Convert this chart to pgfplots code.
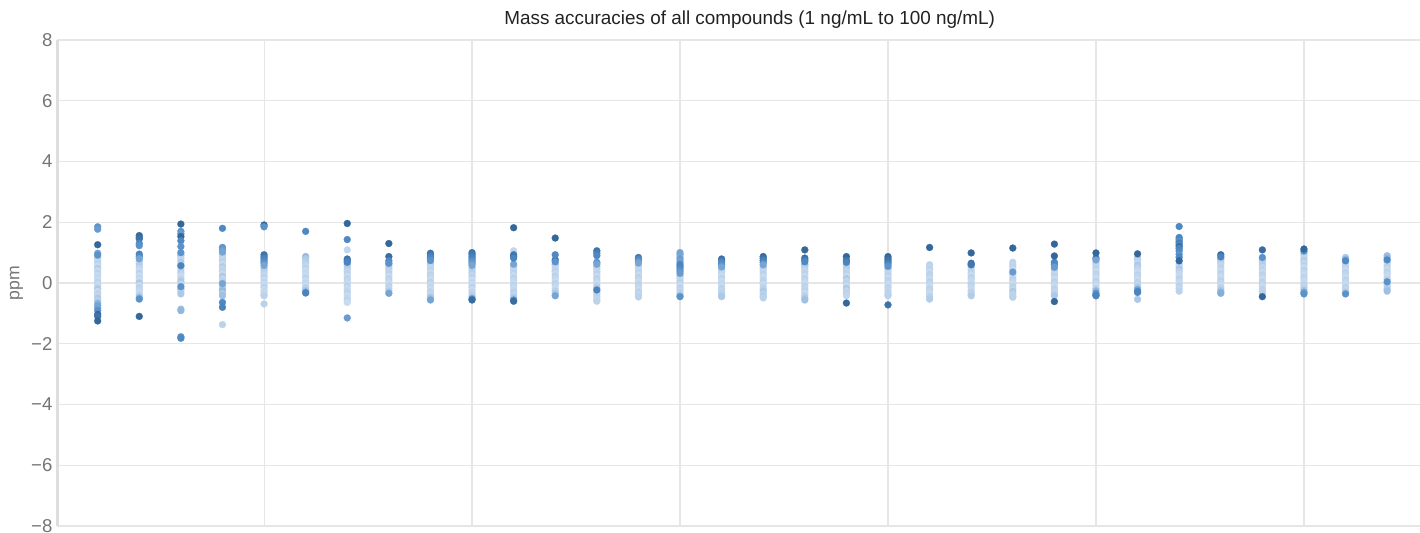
\documentclass[border=0pt]{standalone}
\usepackage{fontspec}
\setmainfont{Liberation Sans}
\usepackage{pgfplots}
\usepackage{pgfplotstable}
\pgfplotsset{compat=1.18}
\definecolor{gridc}{HTML}{E6E6E6}
\definecolor{axc}{HTML}{DEDEDE}
\definecolor{tickc}{HTML}{757575}
\definecolor{titc}{HTML}{222222}
\pgfplotstableread{
x y c
1 0.98 0.5
1 0.92 0.6
1 0.85 0.3
1 0.78 0.2
1 0.70 0.15
1 0.62 0.2
1 0.55 0.1
1 0.48 0.25
1 0.40 0.1
1 0.32 0.2
1 0.25 0.1
1 0.18 0.15
1 0.10 0.1
1 0.02 0.2
1 -0.05 0.1
1 -0.12 0.15
1 -0.20 0.3
1 -0.28 0.1
1 -0.35 0.2
1 -0.42 0.15
1 -0.50 0.3
1 -0.58 0.2
1 -0.66 0.4
1 -0.74 0.5
1 -0.82 0.45
1 -0.90 0.6
1 1.85 0.6
1 1.77 0.55
1 1.26 0.95
1 -1.03 0.95
1 -1.10 0.85
1 -1.25 0.95
2 0.95 0.7
2 0.88 0.65
2 0.80 0.5
2 0.72 0.3
2 0.64 0.2
2 0.56 0.25
2 0.48 0.15
2 0.40 0.1
2 0.32 0.2
2 0.24 0.1
2 0.16 0.15
2 0.08 0.1
2 0.00 0.3
2 -0.08 0.1
2 -0.16 0.2
2 -0.24 0.15
2 -0.32 0.1
2 -0.40 0.2
2 -0.48 0.4
2 -0.53 0.6
2 1.56 0.95
2 1.50 0.9
2 1.45 0.85
2 1.30 0.65
2 1.23 0.6
2 -1.10 0.95
3 1.00 0.6
3 0.92 0.4
3 0.84 0.2
3 0.76 0.15
3 0.68 0.3
3 0.60 0.15
3 0.57 0.7
3 0.52 0.2
3 0.44 0.1
3 0.36 0.25
3 0.28 0.15
3 0.20 0.1
3 0.12 0.2
3 0.04 0.3
3 -0.04 0.15
3 -0.12 0.6
3 -0.20 0.4
3 -0.28 0.2
3 -0.36 0.3
3 1.94 0.95
3 1.70 0.6
3 1.62 0.55
3 1.53 0.95
3 1.39 0.65
3 1.20 0.6
3 -0.86 0.35
3 -0.91 0.4
3 -1.77 0.6
3 -1.82 0.65
4 1.17 0.6
4 1.10 0.55
4 1.02 0.5
4 0.94 0.3
4 0.86 0.2
4 0.78 0.15
4 0.70 0.2
4 0.62 0.1
4 0.54 0.25
4 0.46 0.15
4 0.38 0.2
4 0.30 0.1
4 0.22 0.3
4 0.14 0.15
4 0.06 0.2
4 -0.02 0.5
4 -0.10 0.2
4 -0.18 0.3
4 -0.26 0.4
4 -0.34 0.3
4 -0.42 0.35
4 1.80 0.65
4 -0.64 0.65
4 -0.80 0.7
4 -1.37 0.2
5 0.93 0.85
5 0.86 0.8
5 0.80 0.7
5 0.73 0.65
5 0.66 0.6
5 0.58 0.5
5 0.50 0.3
5 0.42 0.25
5 0.34 0.2
5 0.26 0.15
5 0.18 0.2
5 0.10 0.1
5 0.02 0.15
5 -0.06 0.1
5 -0.14 0.2
5 -0.22 0.1
5 -0.30 0.15
5 -0.38 0.1
5 -0.42 0.2
5 1.91 0.95
5 1.85 0.6
5 -0.69 0.2
6 0.87 0.4
6 0.80 0.3
6 0.72 0.25
6 0.64 0.2
6 0.56 0.15
6 0.48 0.2
6 0.40 0.1
6 0.32 0.15
6 0.24 0.1
6 0.16 0.2
6 0.08 0.1
6 0.00 0.15
6 -0.08 0.1
6 -0.16 0.2
6 -0.24 0.3
6 -0.30 0.5
6 -0.33 0.7
6 1.70 0.65
7 0.79 0.85
7 0.73 0.8
7 0.68 0.7
7 0.62 0.4
7 0.54 0.2
7 0.46 0.25
7 0.38 0.15
7 0.30 0.2
7 0.22 0.1
7 0.14 0.2
7 0.06 0.15
7 -0.02 0.1
7 -0.10 0.2
7 -0.18 0.1
7 -0.26 0.15
7 -0.34 0.2
7 -0.42 0.1
7 -0.50 0.15
7 -0.58 0.2
7 -0.64 0.1
7 1.96 0.95
7 1.43 0.65
7 1.09 0.15
7 -1.15 0.55
8 0.62 0.4
8 0.54 0.2
8 0.46 0.25
8 0.38 0.15
8 0.30 0.2
8 0.22 0.1
8 0.14 0.2
8 0.06 0.15
8 -0.02 0.1
8 -0.10 0.2
8 -0.18 0.15
8 -0.26 0.25
8 -0.34 0.5
8 1.30 0.95
8 0.87 0.9
8 0.73 0.65
8 0.65 0.6
9 0.98 0.85
9 0.92 0.8
9 0.86 0.7
9 0.80 0.65
9 0.74 0.6
9 0.66 0.3
9 0.58 0.2
9 0.50 0.15
9 0.42 0.2
9 0.34 0.1
9 0.26 0.2
9 0.18 0.15
9 0.10 0.1
9 0.02 0.2
9 -0.06 0.1
9 -0.14 0.15
9 -0.22 0.1
9 -0.30 0.2
9 -0.38 0.15
9 -0.46 0.3
9 -0.52 0.35
9 -0.56 0.5
10 1.00 0.85
10 0.94 0.8
10 0.88 0.75
10 0.82 0.7
10 0.76 0.65
10 0.70 0.6
10 0.64 0.55
10 0.58 0.5
10 0.50 0.3
10 0.42 0.2
10 0.34 0.25
10 0.26 0.15
10 0.18 0.2
10 0.10 0.1
10 0.02 0.15
10 -0.06 0.1
10 -0.14 0.2
10 -0.22 0.1
10 -0.30 0.15
10 -0.38 0.2
10 -0.46 0.3
10 -0.52 0.6
10 -0.56 0.9
11 0.62 0.5
11 0.55 0.3
11 0.48 0.2
11 0.40 0.15
11 0.32 0.2
11 0.24 0.1
11 0.16 0.2
11 0.08 0.15
11 0.00 0.1
11 -0.08 0.2
11 -0.16 0.1
11 -0.24 0.15
11 -0.32 0.2
11 -0.40 0.15
11 -0.48 0.3
11 -0.56 0.6
11 -0.60 0.9
11 1.82 0.95
11 1.06 0.15
11 0.93 0.8
11 0.87 0.85
11 0.82 0.7
12 0.76 0.9
12 0.70 0.6
12 0.62 0.4
12 0.54 0.2
12 0.46 0.15
12 0.38 0.2
12 0.30 0.1
12 0.22 0.2
12 0.14 0.15
12 0.06 0.1
12 -0.02 0.2
12 -0.10 0.15
12 -0.18 0.1
12 -0.26 0.2
12 -0.34 0.3
12 -0.42 0.5
12 1.48 0.95
12 0.93 0.65
13 1.06 0.85
13 0.98 0.75
13 0.90 0.65
13 0.68 0.6
13 0.62 0.5
13 0.54 0.3
13 0.46 0.2
13 0.38 0.15
13 0.30 0.2
13 0.22 0.1
13 0.14 0.2
13 0.06 0.15
13 -0.02 0.1
13 -0.10 0.2
13 -0.18 0.3
13 -0.23 0.7
13 -0.30 0.2
13 -0.38 0.15
13 -0.46 0.2
13 -0.54 0.15
13 -0.60 0.2
14 0.84 0.8
14 0.78 0.65
14 0.72 0.6
14 0.66 0.5
14 0.58 0.3
14 0.50 0.2
14 0.42 0.15
14 0.34 0.2
14 0.26 0.1
14 0.18 0.2
14 0.10 0.15
14 0.02 0.1
14 -0.06 0.2
14 -0.14 0.15
14 -0.22 0.1
14 -0.30 0.2
14 -0.38 0.15
14 -0.46 0.2
15 1.00 0.5
15 0.93 0.45
15 0.86 0.4
15 0.78 0.55
15 0.70 0.5
15 0.62 0.65
15 0.55 0.7
15 0.48 0.65
15 0.40 0.6
15 0.32 0.55
15 0.24 0.3
15 0.16 0.2
15 0.08 0.15
15 0.00 0.2
15 -0.08 0.1
15 -0.16 0.2
15 -0.24 0.15
15 -0.32 0.2
15 -0.40 0.3
15 -0.45 0.6
16 0.79 0.9
16 0.73 0.75
16 0.67 0.65
16 0.60 0.6
16 0.53 0.5
16 0.46 0.3
16 0.38 0.2
16 0.30 0.15
16 0.22 0.1
16 0.14 0.2
16 0.06 0.1
16 -0.02 0.15
16 -0.10 0.1
16 -0.18 0.2
16 -0.26 0.15
16 -0.34 0.2
16 -0.42 0.25
16 -0.45 0.3
17 0.87 0.95
17 0.81 0.85
17 0.75 0.75
17 0.68 0.65
17 0.60 0.5
17 0.52 0.3
17 0.44 0.2
17 0.36 0.15
17 0.28 0.2
17 0.20 0.1
17 0.12 0.15
17 0.04 0.2
17 -0.04 0.1
17 -0.12 0.15
17 -0.20 0.2
17 -0.28 0.3
17 -0.36 0.2
17 -0.44 0.25
17 -0.49 0.2
18 0.82 0.9
18 0.76 0.8
18 0.70 0.65
18 0.62 0.45
18 0.54 0.3
18 0.46 0.2
18 0.38 0.15
18 0.30 0.2
18 0.22 0.1
18 0.14 0.2
18 0.06 0.15
18 -0.02 0.1
18 -0.10 0.2
18 -0.18 0.15
18 -0.26 0.2
18 -0.34 0.1
18 -0.42 0.2
18 -0.50 0.3
18 -0.56 0.35
18 1.09 0.95
19 0.62 0.3
19 0.54 0.2
19 0.46 0.25
19 0.38 0.15
19 0.30 0.2
19 0.22 0.1
19 0.14 0.3
19 0.06 0.15
19 -0.02 0.2
19 -0.10 0.1
19 -0.18 0.3
19 -0.26 0.15
19 -0.34 0.2
19 -0.42 0.15
19 0.87 0.95
19 0.75 0.85
19 0.68 0.7
19 -0.66 0.95
20 0.87 0.95
20 0.80 0.9
20 0.74 0.85
20 0.68 0.8
20 0.62 0.7
20 0.55 0.6
20 0.48 0.4
20 0.40 0.2
20 0.32 0.15
20 0.24 0.2
20 0.16 0.1
20 0.08 0.2
20 0.00 0.15
20 -0.08 0.1
20 -0.16 0.2
20 -0.24 0.15
20 -0.32 0.2
20 -0.40 0.15
20 -0.42 0.2
20 -0.72 0.85
21 0.60 0.2
21 0.52 0.15
21 0.44 0.2
21 0.36 0.1
21 0.28 0.2
21 0.20 0.15
21 0.12 0.1
21 0.04 0.2
21 -0.04 0.15
21 -0.12 0.1
21 -0.20 0.2
21 -0.28 0.15
21 -0.36 0.1
21 -0.44 0.2
21 -0.53 0.25
21 1.17 0.95
22 0.65 0.85
22 0.58 0.4
22 0.50 0.2
22 0.42 0.15
22 0.34 0.2
22 0.26 0.1
22 0.18 0.2
22 0.10 0.15
22 0.02 0.1
22 -0.06 0.2
22 -0.14 0.15
22 -0.22 0.1
22 -0.30 0.2
22 -0.38 0.15
22 -0.42 0.25
22 0.99 0.95
22 0.60 0.8
23 0.68 0.2
23 0.60 0.15
23 0.52 0.2
23 0.44 0.1
23 0.36 0.55
23 0.28 0.15
23 0.20 0.1
23 0.12 0.2
23 0.04 0.15
23 -0.04 0.1
23 -0.12 0.2
23 -0.20 0.15
23 -0.28 0.3
23 -0.36 0.2
23 -0.44 0.15
23 -0.47 0.2
23 1.15 0.95
24 0.68 0.7
24 0.60 0.65
24 0.52 0.55
24 0.44 0.3
24 0.36 0.2
24 0.28 0.15
24 0.20 0.2
24 0.12 0.1
24 0.04 0.2
24 -0.04 0.15
24 -0.12 0.1
24 -0.20 0.2
24 -0.28 0.15
24 -0.36 0.2
24 -0.42 0.3
24 1.28 0.95
24 0.89 0.95
24 -0.61 0.95
25 0.82 0.8
25 0.76 0.5
25 0.70 0.3
25 0.62 0.2
25 0.54 0.15
25 0.46 0.2
25 0.38 0.1
25 0.30 0.2
25 0.22 0.15
25 0.14 0.1
25 0.06 0.2
25 -0.02 0.15
25 -0.10 0.1
25 -0.18 0.2
25 -0.26 0.4
25 -0.34 0.6
25 -0.40 0.65
25 -0.42 0.7
25 0.99 0.95
26 0.82 0.3
26 0.74 0.2
26 0.66 0.15
26 0.58 0.3
26 0.50 0.2
26 0.42 0.15
26 0.34 0.1
26 0.26 0.2
26 0.18 0.15
26 0.10 0.1
26 0.02 0.2
26 -0.06 0.15
26 -0.14 0.3
26 -0.22 0.5
26 -0.28 0.65
26 -0.31 0.7
26 0.96 0.95
26 -0.54 0.3
27 0.62 0.2
27 0.54 0.15
27 0.46 0.3
27 0.38 0.2
27 0.30 0.15
27 0.22 0.1
27 0.14 0.2
27 0.06 0.15
27 -0.02 0.1
27 -0.10 0.2
27 -0.18 0.15
27 -0.27 0.2
27 1.86 0.65
27 1.50 0.65
27 1.44 0.7
27 1.38 0.6
27 1.32 0.75
27 1.26 0.65
27 1.20 0.9
27 1.14 0.7
27 1.06 0.65
27 0.95 0.6
27 0.85 0.65
27 0.73 0.95
28 0.93 0.9
28 0.86 0.7
28 0.80 0.4
28 0.72 0.3
28 0.64 0.2
28 0.56 0.15
28 0.48 0.2
28 0.40 0.1
28 0.32 0.2
28 0.24 0.15
28 0.16 0.1
28 0.08 0.2
28 0.00 0.15
28 -0.08 0.1
28 -0.16 0.2
28 -0.24 0.3
28 -0.30 0.4
28 -0.34 0.45
29 0.75 0.3
29 0.67 0.2
29 0.59 0.25
29 0.51 0.15
29 0.43 0.2
29 0.35 0.1
29 0.27 0.2
29 0.19 0.15
29 0.11 0.1
29 0.03 0.2
29 -0.05 0.15
29 -0.13 0.1
29 -0.21 0.2
29 -0.29 0.15
29 -0.34 0.2
29 1.09 0.9
29 0.84 0.6
29 -0.45 0.95
30 1.05 0.6
30 0.98 0.3
30 0.90 0.2
30 0.82 0.15
30 0.74 0.25
30 0.66 0.15
30 0.58 0.2
30 0.50 0.1
30 0.42 0.2
30 0.34 0.15
30 0.26 0.1
30 0.18 0.2
30 0.10 0.15
30 0.02 0.1
30 -0.06 0.2
30 -0.14 0.15
30 -0.22 0.3
30 -0.30 0.5
30 -0.36 0.6
30 1.12 0.95
31 0.84 0.3
31 0.78 0.4
31 0.73 0.65
31 0.66 0.2
31 0.58 0.15
31 0.50 0.2
31 0.42 0.1
31 0.34 0.2
31 0.26 0.15
31 0.18 0.1
31 0.10 0.2
31 0.02 0.15
31 -0.06 0.1
31 -0.14 0.2
31 -0.22 0.15
31 -0.30 0.3
31 -0.36 0.6
32 0.90 0.35
32 0.83 0.4
32 0.76 0.65
32 0.68 0.2
32 0.60 0.15
32 0.52 0.2
32 0.44 0.1
32 0.36 0.2
32 0.28 0.15
32 0.20 0.1
32 0.12 0.2
32 0.04 0.6
32 -0.04 0.15
32 -0.12 0.2
32 -0.20 0.3
32 -0.27 0.35
}\massdata
\begin{document}
\begin{tikzpicture}
\path[use as bounding box] (-28.75pt,-3.5pt) rectangle (681.25pt,263pt);
\begin{axis}[
  at={(0pt,0pt)}, anchor=south west,
  scale only axis, width=681.25pt, height=243pt,
  xmin=0.034, xmax=32.79, ymin=-8, ymax=8,
  xtick={5,10,15,20,25,30}, xticklabels={},
  ytick={-8,-6,-4,-2,0,2,4,6,8},
  yticklabels={−8,−6,−4,−2,0,2,4,6,8},
  major tick length=0pt,
  grid=major, grid style={draw=gridc, line width=0.55pt},
  axis x line*=bottom, axis y line*=left,
  axis line style={-},
  x axis line style={draw=none},
  y axis line style={draw=axc, line width=1.1pt},
  yticklabel style={font=\fontsize{9.3}{10}\selectfont, text=tickc, xshift=1pt},
  ylabel={ppm},
  every axis y label/.style={at={(rel axis cs:0,0.5)}, xshift=-20.5pt, rotate=90, anchor=center, font=\fontsize{8.8}{10}\selectfont, text=tickc},
  point meta min=0, point meta max=1,
  colormap={mb}{rgb255(0cm)=(216,228,243) rgb255(3cm)=(172,201,231) rgb255(6.5cm)=(78,137,196) rgb255(10cm)=(48,98,148)},
  clip=false,
]
\addplot[scatter, only marks, mark=*, mark size=1.75pt, scatter src=explicit,
  scatter/use mapped color={draw=mapped color, fill=mapped color},
  mark options={line width=0.1pt},
  restrict expr to domain={\thisrow{c}}{0:0.49}]
  table[x=x, y=y, meta=c] {\massdata};
\addplot[scatter, only marks, mark=*, mark size=1.75pt, scatter src=explicit,
  scatter/use mapped color={draw=mapped color, fill=mapped color},
  mark options={line width=0.1pt},
  restrict expr to domain={\thisrow{c}}{0.5:1}]
  table[x=x, y=y, meta=c] {\massdata};
\node[font=\fontsize{9.45}{11}\selectfont, text=titc, anchor=center] at (rel axis cs:0.508,1) [yshift=10pt] {Mass accuracies of all compounds (1 ng/mL to 100 ng/mL)};
\end{axis}
\end{tikzpicture}
\end{document}
